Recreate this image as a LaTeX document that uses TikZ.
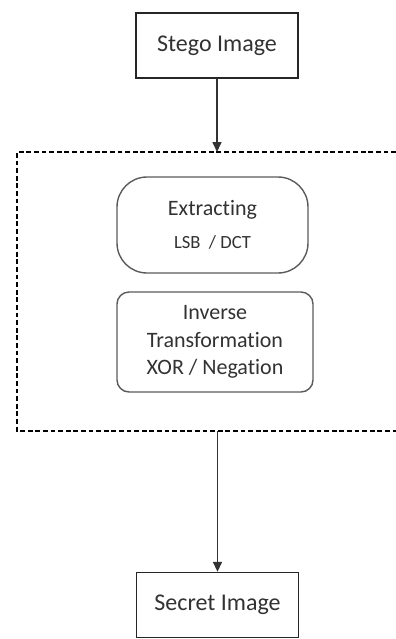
\documentclass[tikz,border=0pt]{standalone}
\usepackage{fontspec}
\setmainfont{Carlito}[Ligatures=NoCommon]
\usetikzlibrary{arrows.meta}
\definecolor{gray1}{RGB}{50, 50, 50}
\definecolor{gray2}{RGB}{90, 90, 90}

\begin{document}
\begin{tikzpicture}[x=0.5pt, y=-0.5pt, line width=0.7pt, text=gray1,
  imgbox/.style={draw=black!85, minimum width=81pt, minimum height=32.5pt, font=\fontsize{12}{14}\selectfont},
  stagebox/.style={draw=gray2, align=center, font=\fontsize{11}{13.75}\selectfont},
  flow/.style={draw=black!80, line width=0.8pt, -{Triangle[width=4.5pt,length=5pt]}}]
  \useasboundingbox (0,0) rectangle (396,639);
  \node[imgbox] (stego) at (217,45.5) {Stego Image};
  \node[stagebox, rounded corners=15pt, minimum width=95.5pt, minimum height=48pt] (extract) at (212.5,225)
    {Extracting\\[3pt]{\fontsize{9.3}{11}\selectfont LSB~~/ DCT}};
  \node[stagebox, rounded corners=6pt, minimum width=98pt, minimum height=50pt] (inverse) at (215,342)
    {Inverse\\Transformation\\XOR / Negation};
  \node[imgbox] (secret) at (217.5,605) {Secret Image};
  % open dashed frame, right side runs off the page
  \draw[dash pattern=on 2.4pt off 1.4pt, line width=0.9pt] (396,152) -- (17,152) -- (17,431) -- (396,431);
  \coordinate (frametop) at (stego.south |- 0,152);
  \coordinate (framebot) at (secret.north |- 0,431);
  \foreach \from/\to in {stego/frametop, framebot/secret}
   \draw[flow] (\from) -- (\to);
\end{tikzpicture}
\end{document}
